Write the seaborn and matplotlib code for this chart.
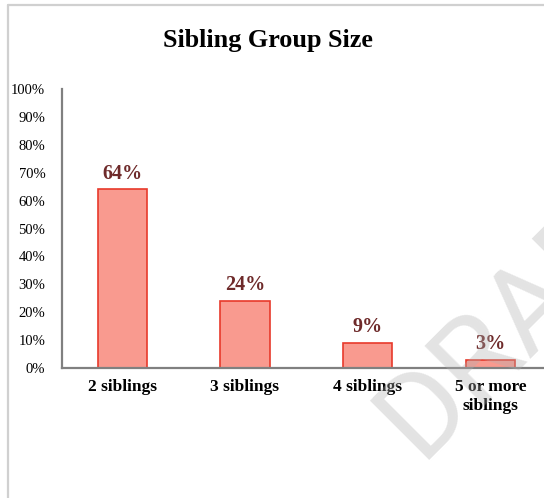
import matplotlib
matplotlib.use("Agg")
import matplotlib.pyplot as plt
import seaborn as sns
from matplotlib.lines import Line2D

categories = ["2 siblings", "3 siblings", "4 siblings", "5 or more\nsiblings"]
values = [64, 24, 9, 3]
yticks = [0, 10, 20, 30, 40, 50, 60, 70, 80, 90, 100]

sns.set_style("white")
plt.rcParams["font.family"] = ["Liberation Serif", "DejaVu Serif"]
plt.rcParams["text.color"] = "black"
plt.rcParams["xtick.color"] = "black"
plt.rcParams["ytick.color"] = "black"

fig = plt.figure(figsize=(5.44, 4.98), dpi=100)
ax = fig.add_axes([62 / 544, 130 / 498, 490 / 544, 279 / 498])
ax.patch.set_alpha(0)

sns.barplot(x=categories, y=values, ax=ax, color="#f99a8f", saturation=1,
            width=0.4, edgecolor="#e8392b", linewidth=1.2)

for i, v in enumerate(values):
    ax.text(i, v + 2, f"{v}%", ha="center", va="bottom", fontsize=14.5,
            fontweight="bold", color="#6e2a2a")

ax.set_xlim(-0.49, 3.5)
ax.set_ylim(0, 100)
ax.set_yticks(yticks)
ax.set_yticklabels([f"{t}%" for t in yticks], fontsize=10.5)
ax.tick_params(axis="y", length=0, pad=12)
ax.tick_params(axis="x", length=0, pad=8)
for lbl in ax.get_xticklabels():
    lbl.set_fontweight("bold")
    lbl.set_fontsize(12.5)
ax.set_xlabel("")
ax.set_ylabel("")
for s in ["top", "right"]:
    ax.spines[s].set_visible(False)
for s in ["left", "bottom"]:
    ax.spines[s].set_color("#808080")
    ax.spines[s].set_linewidth(1.6)

fig.text(268 / 544, 1 - 40 / 498, "Sibling Group Size", ha="center", va="center",
         fontsize=18.8, fontweight="bold")

# outer chart border (cropped on right and bottom)
fig.add_artist(Line2D([7.5 / 544, 7.5 / 544], [0, 1 - 5.5 / 498], color="#d0d0d0", lw=1.6))
fig.add_artist(Line2D([7.5 / 544, 1], [1 - 5.5 / 498, 1 - 5.5 / 498], color="#d0d0d0", lw=1.6))

# watermark, semi-transparent over the plot
fig.text(527 / 544, 1 - 308 / 498, "DRAFT", ha="center", va="center", rotation=45,
         fontsize=86, color="#b0b0b0", alpha=0.35, family=["Roboto", "DejaVu Sans"],
         fontweight=400, zorder=10)

fig.savefig("out.png", dpi=100)
